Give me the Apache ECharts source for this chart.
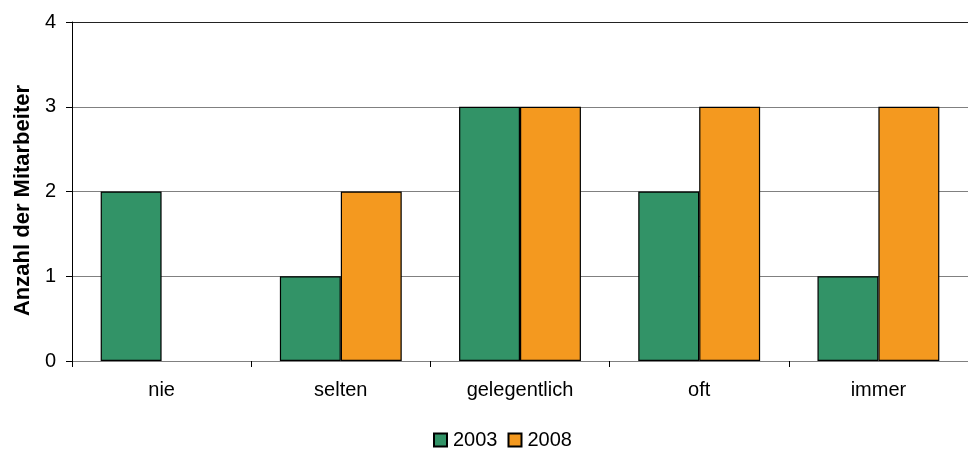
<!DOCTYPE html>
<html>
<head>
<meta charset="utf-8">
<script src="https://cdn.jsdelivr.net/npm/echarts@6/dist/echarts.min.js"></script>
<style>
  html, body { margin: 0; padding: 0; background: #fff; }
  #chart { width: 968px; height: 457px; }
</style>
</head>
<body>
<div id="chart"></div>
<script>
// Häufigkeit je Kategorie, Befragung 2003 vs. 2008
const categories = ['nie', 'selten', 'gelegentlich', 'oft', 'immer'];
const values2003 = [2, 1, 3, 2, 1];
const values2008 = [null, 2, 3, 3, 3];
const seriesNames = ['2003', '2008'];
const yTicks = [0, 1, 2, 3, 4];

const chart = echarts.init(document.getElementById('chart'));
const font = 'Liberation Sans, Arial, sans-serif';

chart.setOption({
  animation: false,
  textStyle: { fontFamily: font },
  grid: { left: 72, right: 0, top: 22, bottom: 96, containLabel: false },
  legend: {
    top: 425,
    left: 428,
    itemWidth: 13,
    itemHeight: 13,
    itemGap: 10,
    icon: 'rect',
    textStyle: { fontSize: 20, color: '#000', fontFamily: font, padding: [0, 0, 0, 1] },
    data: seriesNames
  },
  xAxis: {
    type: 'category',
    data: categories,
    axisLine: { show: true, lineStyle: { color: '#808080', width: 1 } },
    axisTick: { show: true, length: 6, lineStyle: { color: '#000' } },
    axisLabel: { fontSize: 20, color: '#000', margin: 19 }
  },
  yAxis: {
    type: 'value',
    min: yTicks[0],
    max: yTicks[yTicks.length - 1],
    interval: 1,
    name: 'Anzahl der Mitarbeiter',
    nameLocation: 'middle',
    nameGap: 38,
    nameRotate: 90,
    nameTextStyle: { fontSize: 22, fontWeight: 'bold', color: '#000', padding: [0, 18, 0, 0] },
    axisLine: { show: true, lineStyle: { color: '#000', width: 1 } },
    axisTick: { show: true, length: 6, lineStyle: { color: '#000' } },
    axisLabel: { fontSize: 20, color: '#000', margin: 16 },
    splitLine: {
      show: true,
      lineStyle: { color: ['#808080', '#808080', '#808080', '#808080', '#222'], width: 1 }
    }
  },
  series: [
    {
      name: seriesNames[0],
      type: 'bar',
      data: values2003,
      barGap: '0%',
      barCategoryGap: '32%',
      itemStyle: { color: '#329367', borderColor: '#000', borderWidth: 1.2 }
    },
    {
      name: seriesNames[1],
      type: 'bar',
      data: values2008,
      barGap: '0%',
      barCategoryGap: '32%',
      itemStyle: { color: '#F4991F', borderColor: '#000', borderWidth: 1.2 }
    }
  ]
});
</script>
</body>
</html>
